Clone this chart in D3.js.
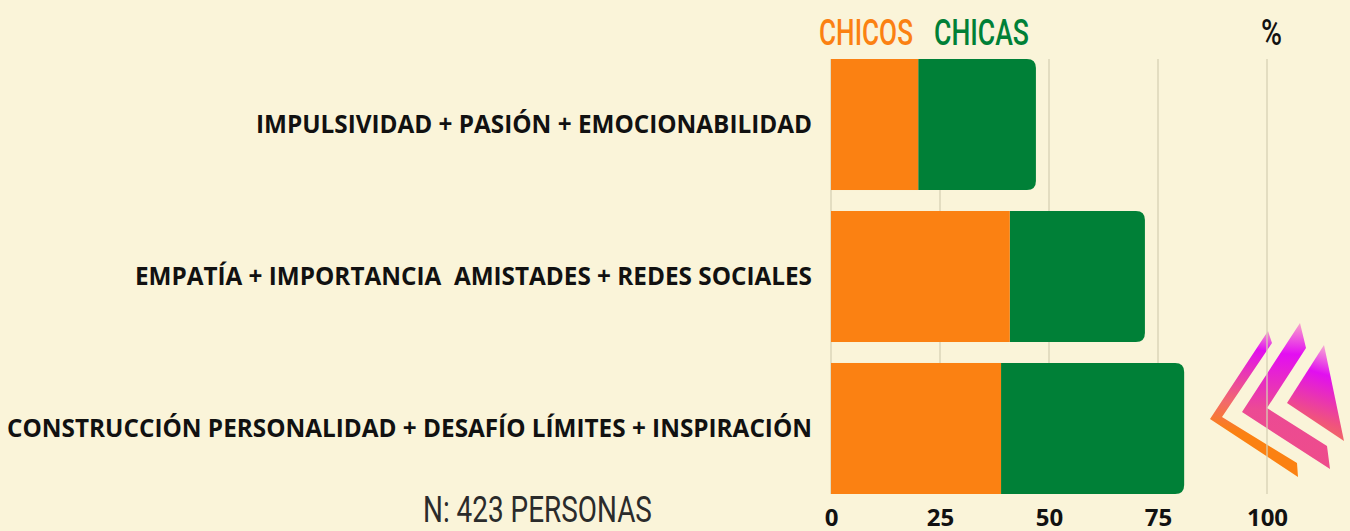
<!DOCTYPE html>
<html>
<head>
<meta charset="utf-8">
<script src="https://cdn.jsdelivr.net/npm/d3@7"></script>
<style>
  body { margin: 0; background: #faf4d9; }
  svg { display: block; }
  .cat { font-family: "Open Sans", sans-serif; font-weight: 700; font-size: 24.3px; fill: #111; white-space: pre; }
  .tick text { font-family: "Open Sans", sans-serif; font-weight: 700; font-size: 24px; fill: #111; }
  .cond { font-family: Roboto, sans-serif; }
</style>
</head>
<body>
<div id="chart"></div>
<script>
// data
var categories = [
  "IMPULSIVIDAD + PASIÓN + EMOCIONABILIDAD",
  "EMPATÍA + IMPORTANCIA  AMISTADES + REDES SOCIALES",
  "CONSTRUCCIÓN PERSONALIDAD + DESAFÍO LÍMITES + INSPIRACIÓN"
];
var chicos = [20, 41, 39];
var chicas = [27, 31, 42];
var ticks = [0, 25, 50, 75, 100];
var seriesNames = ["CHICOS", "CHICAS"];

var svg_w = 1350, svg_h = 531;
var orange = "#fb8112", green = "#008037";

var svg = d3.select("#chart").append("svg")
    .attr("width", svg_w)
    .attr("height", svg_h)
    .style("background", "#faf4d9");

var x = d3.scaleLinear().domain([0, 100]).range([831, 1267]);
var y = d3.scaleBand().domain(categories).range([59, 494]).paddingInner(0.138);

// gradients for the logo
var defs = svg.append("defs");
function grad(id, x1, y1, x2, y2, stops) {
  var g = defs.append("linearGradient").attr("id", id)
      .attr("gradientUnits", "userSpaceOnUse")
      .attr("x1", x1).attr("y1", y1).attr("x2", x2).attr("y2", y2);
  stops.forEach(function(s) {
    g.append("stop").attr("offset", s[0]).attr("stop-color", s[1]);
  });
}
grad("g1", 1270, 330, 1250, 470, [[0, "#f7a6c8"], [0.15, "#e10ff0"], [0.55, "#f26a6a"], [0.75, "#fb8112"], [1, "#fb8112"]]);
grad("g2", 1305, 322, 1300, 470, [[0, "#f9a9c9"], [0.22, "#e30ef2"], [0.6, "#ec4a94"], [1, "#ee4d8a"]]);
grad("g3", 1330, 345, 1300, 440, [[0, "#f8b4d0"], [0.3, "#e10ff0"], [0.75, "#f0537e"], [1, "#f27a50"]]);

var logo = svg.append("g");
logo.append("polygon").attr("fill", "url(#g1)")
    .attr("points", "1268,331 1272,343 1222,417 1297,463 1298,477 1210,419");
logo.append("polygon").attr("fill", "url(#g2)")
    .attr("points", "1300,323 1306,348 1267,408 1327,446 1330,469 1242,412");
logo.append("polygon").attr("fill", "url(#g3)")
    .attr("points", "1324,345 1287,403 1344,441");

// gridlines
svg.append("g").selectAll("line")
    .data(ticks)
    .enter().append("line")
    .attr("x1", function(d) { return x(d); })
    .attr("x2", function(d) { return x(d); })
    .attr("y1", 59)
    .attr("y2", 494)
    .attr("stroke", "#d6d0b4")
    .attr("stroke-width", 1.5)
    .attr("stroke-opacity", 0.85);

// bars
var r = 9;
var bars = svg.append("g").selectAll("g")
    .data(categories)
    .enter().append("g");

bars.append("path")
    .attr("fill", green)
    .attr("d", function(d, i) {
      var x0 = x(chicos[i]), x1 = x(chicos[i] + chicas[i]);
      var y0 = y(d), y1 = y(d) + y.bandwidth();
      return "M" + x0 + "," + y0 + "H" + (x1 - r) + "Q" + x1 + "," + y0 + " " + x1 + "," + (y0 + r) +
             "V" + (y1 - r) + "Q" + x1 + "," + y1 + " " + (x1 - r) + "," + y1 + "H" + x0 + "Z";
    });

bars.append("rect")
    .attr("fill", orange)
    .attr("x", x(0))
    .attr("y", function(d) { return y(d); })
    .attr("width", function(d, i) { return x(chicos[i]) - x(0); })
    .attr("height", y.bandwidth());

// category labels
svg.append("g").selectAll("text")
    .data(categories)
    .enter().append("text")
    .attr("class", "cat")
    .attr("x", 812)
    .attr("y", function(d) { return y(d) + y.bandwidth() / 2 + 8.5; })
    .attr("text-anchor", "end")
    .text(function(d) { return d; });

// x axis
var axis = svg.append("g")
    .attr("transform", "translate(0,502)")
    .call(d3.axisBottom(x).tickValues(ticks).tickSize(0).tickPadding(0));
axis.select(".domain").remove();
axis.selectAll("text").attr("dy", "1em").attr("y", 0);

// condensed text: squeeze horizontally to the target width
function condensed(txt, px, py, w, weight, color) {
  var t = svg.append("text")
      .attr("class", "cond")
      .attr("font-size", 37)
      .attr("font-weight", weight)
      .attr("fill", color)
      .text(txt);
  var len = t.node().getComputedTextLength();
  t.attr("transform", "translate(" + px + "," + py + ") scale(" + (w / len) + ",1)");
  return t;
}

// legend
seriesNames.forEach(function(d, i) {
  condensed(d, [819, 934][i], 45, [94, 95][i], 500, [orange, green][i]);
});
condensed("%", 1261, 45, 21, 500, "#111");
condensed("N: 423 PERSONAS", 423, 522, 229, 400, "#2b2b2b");
</script>
</body>
</html>
